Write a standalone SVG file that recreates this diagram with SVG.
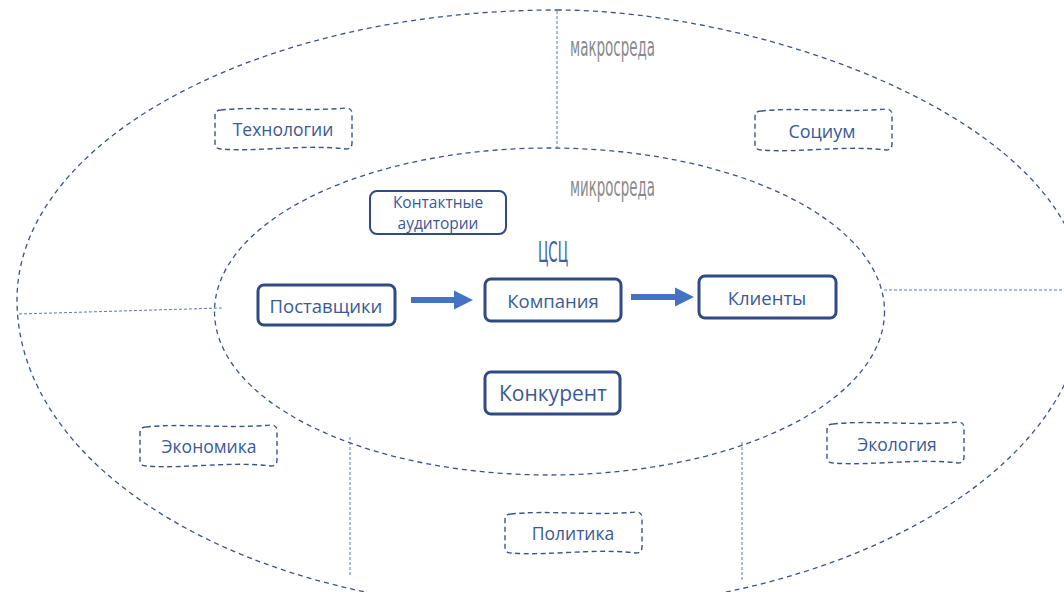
<svg xmlns="http://www.w3.org/2000/svg" width="1064" height="592" viewBox="0 0 1064 592">
<style>
.env{fill:none;stroke:#3a5488;stroke-width:1.3;stroke-dasharray:5 4}
.sep{fill:none;stroke:#5b79ad;stroke-width:1;stroke-dasharray:3 2}
.tag{fill:none;stroke:#3a5488;stroke-width:1.4;stroke-dasharray:5 3.5}
.box{fill:#fff;stroke:#2f4b86;stroke-width:3}
.t{font-family:"Open Sans","Noto Sans","DejaVu Sans",sans-serif;fill:#3a5a96;text-anchor:middle;dominant-baseline:central}
.hand{font-family:"DejaVu Sans Condensed","DejaVu Sans",sans-serif;font-stretch:condensed;fill:#8a8a8a;font-size:26px}
.arr{stroke:#4472c4;stroke-width:6;fill:none}
</style>
<defs>
<path id="wave" d="M6,3 C40,-1 90,5 131,1 Q137,1 137,7 L137,36 Q137,42 131,42 C90,37 45,45 6,42 Q0,42 0,36 L0,9 Q0,3 6,3 Z"/>
<marker id="ah" markerWidth="3.2" markerHeight="3.2" refX="0" refY="1.6" orient="auto" markerUnits="strokeWidth">
<path d="M0,0 L3.2,1.6 L0,3.2 Z" fill="#4472c4"/>
</marker>
</defs>
<g id="connectors">
<path class="env" d="M557,10 C760,10 1085,120 1085,300 C1085,470 843,610 545,610 C247,610 17,470 17,300 C17,140 260,10 557,10 Z"/>
<ellipse class="env" cx="549.5" cy="311.5" rx="335" ry="163.5"/>
<line class="sep" x1="557" y1="11" x2="557" y2="148"/>
<line class="sep" x1="19" y1="314" x2="222" y2="308"/>
<line class="sep" x1="884" y1="290" x2="1064" y2="290"/>
<line class="sep" x1="350" y1="437" x2="350" y2="575"/>
<line class="sep" x1="742" y1="442" x2="742" y2="580"/>
<line class="arr" x1="411" y1="300" x2="454" y2="300" marker-end="url(#ah)"/>
<line class="arr" x1="631" y1="297" x2="675" y2="297" marker-end="url(#ah)"/>
</g>
<g id="labels">
<text class="hand" x="570" y="56" textLength="85" lengthAdjust="spacingAndGlyphs">макросреда</text>
<text class="hand" x="570" y="196" textLength="85" lengthAdjust="spacingAndGlyphs">микросреда</text>
<text class="hand" x="538" y="262" textLength="30" lengthAdjust="spacingAndGlyphs" style="fill:#3f5f9c;font-size:28px">ЦСЦ</text>
</g>
<g id="tech"><use href="#wave" class="tag" x="215" y="107"/><text class="t" x="283" y="129" font-size="17.5">Технологии</text></g>
<g id="socium"><use href="#wave" class="tag" x="755" y="108"/><text class="t" x="822" y="131" font-size="18">Социум</text></g>
<g id="econ"><use href="#wave" class="tag" x="140" y="424"/><text class="t" x="209" y="446" font-size="17.5">Экономика</text></g>
<g id="ecol"><use href="#wave" class="tag" x="827" y="421"/><text class="t" x="897" y="444" font-size="17.5">Экология</text></g>
<g id="polit"><use href="#wave" class="tag" x="505" y="511"/><text class="t" x="573" y="533" font-size="17.5">Политика</text></g>
<g id="contact"><rect class="box" x="370" y="191" width="136" height="43" rx="7" style="stroke-width:2"/><text class="t" x="438" y="202" font-size="15.5">Контактные</text><text class="t" x="438" y="223" font-size="15.5">аудитории</text></g>
<g id="suppliers"><rect class="box" x="258" y="285" width="137" height="40" rx="6"/><text class="t" x="326" y="305" font-size="18.5">Поставщики</text></g>
<g id="company"><rect class="box" x="485" y="279" width="136" height="42" rx="6"/><text class="t" x="553" y="300" font-size="18.5">Компания</text></g>
<g id="clients"><rect class="box" x="699" y="276" width="137" height="42" rx="6"/><text class="t" x="767" y="297" font-size="18.5">Клиенты</text></g>
<g id="competitor"><rect class="box" x="485" y="372" width="135" height="42" rx="6"/><text class="t" x="553" y="393" font-size="21">Конкурент</text></g>
</svg>
